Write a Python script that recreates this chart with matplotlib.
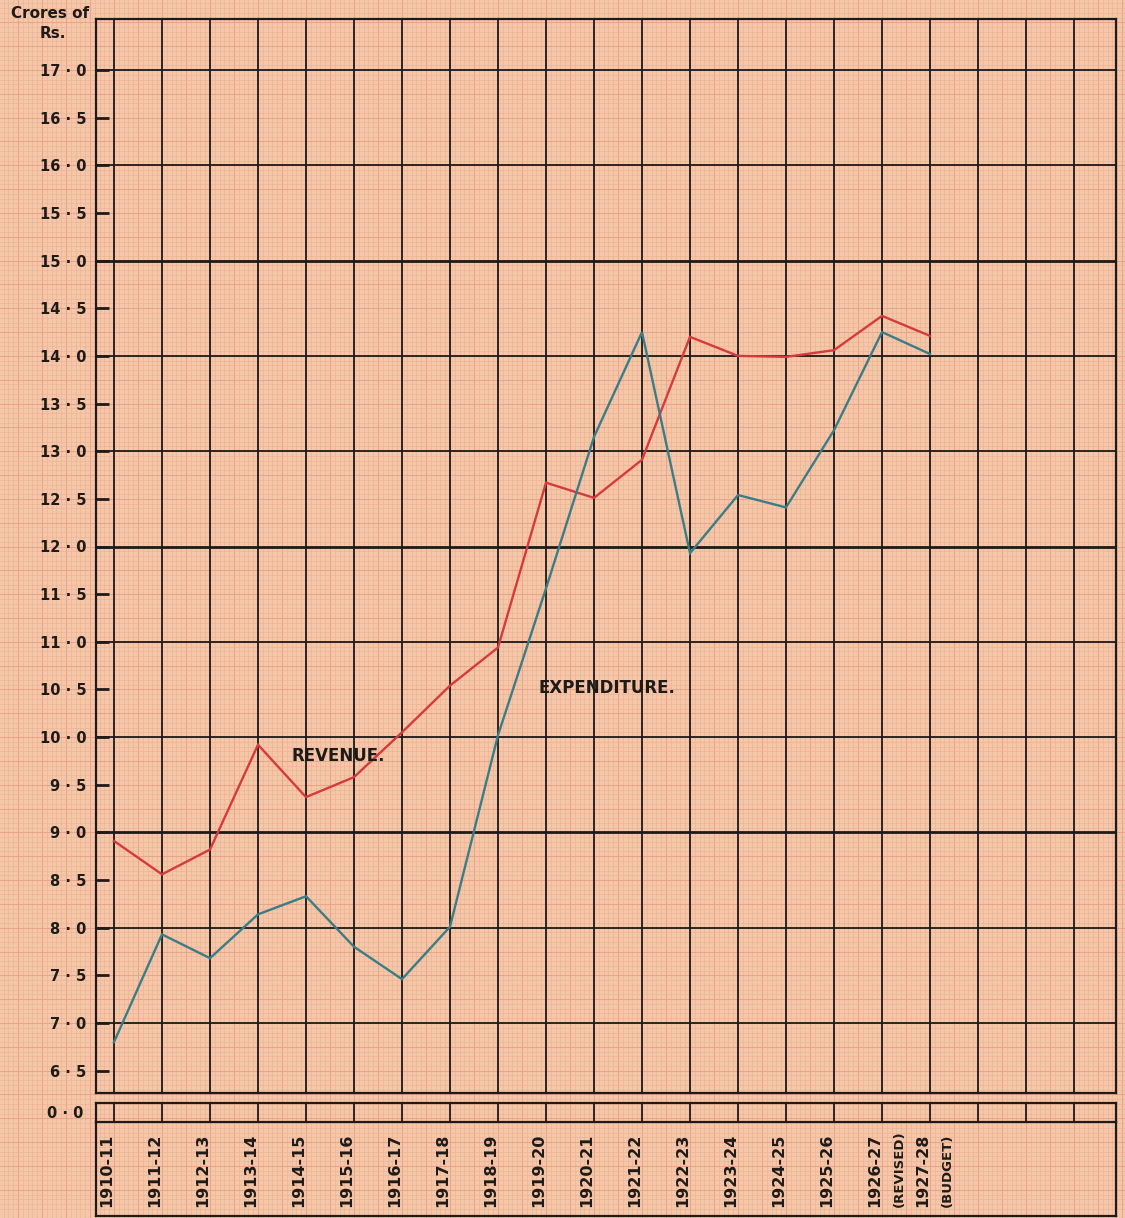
import matplotlib
matplotlib.use('Agg')
import matplotlib.pyplot as plt
import matplotlib.transforms as mtransforms
import numpy as np

# ---------------- data ----------------
years = ['1910-11', '1911-12', '1912-13', '1913-14', '1914-15', '1915-16',
         '1916-17', '1917-18', '1918-19', '1919-20', '1920-21', '1921-22',
         '1922-23', '1923-24', '1924-25', '1925-26', '1926-27', '1927-28']
notes = ['', '', '', '', '', '', '', '', '', '', '', '', '', '', '', '',
         '(REVISED)', '(BUDGET)']
revenue = [8.91, 8.56, 8.82, 9.92, 9.37, 9.58, 10.05, 10.54, 10.94, 12.67,
           12.51, 12.91, 14.20, 14.00, 13.99, 14.06, 14.42, 14.21]
expenditure = [6.80, 7.93, 7.68, 8.14, 8.33, 7.80, 7.46, 8.01, 10.02, 11.56,
               13.15, 14.25, 11.93, 12.54, 12.41, 13.22, 14.25, 14.02]
y_tick_values = [6.5, 7.0, 7.5, 8.0, 8.5, 9.0, 9.5, 10.0, 10.5, 11.0, 11.5,
                 12.0, 12.5, 13.0, 13.5, 14.0, 14.5, 15.0, 15.5, 16.0, 16.5, 17.0]
y_tick_labels = ['6 · 5', '7 · 0', '7 · 5', '8 · 0', '8 · 5', '9 · 0', '9 · 5',
                 '10 · 0', '10 · 5', '11 · 0', '11 · 5', '12 · 0', '12 · 5',
                 '13 · 0', '13 · 5', '14 · 0', '14 · 5', '15 · 0', '15 · 5',
                 '16 · 0', '16 · 5', '17 · 0']
grid_years = list(range(21))          # vertical ruled lines (incl. empty columns)
grid_values = [7, 8, 9, 10, 11, 12, 13, 14, 15, 16, 17]
heavy_values = [9, 12, 15]

# ---------------- style ----------------
PAPER = '#F5C7AA'
FINE = '#EFB394'
FINE5 = '#EAA487'
INK = '#1E1A18'
RED = '#D63A3C'
BLUE = '#3A7D86'
FONT = 'DejaVu Sans'

W, H = 1125, 1218
fig = plt.figure(figsize=(W / 100, H / 100), dpi=100)
fig.patch.set_facecolor(PAPER)


def fx(px):
    return px / W


def fy(px):
    return 1 - px / H


# ---------- graph-paper background ----------
bg = fig.add_axes([0, 0, 1, 1], zorder=-5)
bg.set_xlim(0, W)
bg.set_ylim(H, 0)
bg.axis('off')
step = 4.8
for k in range(-30, 240):
    x = 114 + step * k
    if 0 <= x <= W:
        bg.axvline(x, color=FINE5 if k % 5 == 0 else FINE,
                   lw=0.8 if k % 5 == 0 else 0.5, zorder=0)
step_y = 95.3 / 20
for k in range(-20, 240):
    y = 70 + step_y * k
    if 0 <= y <= H:
        bg.axhline(y, color=FINE5 if k % 5 == 0 else FINE,
                   lw=0.8 if k % 5 == 0 else 0.5, zorder=0)

# ---------- main axes ----------
L, R, T, B = 96, 1116, 19, 1093
x0, dx = 114, 48.0
y17, dy = 70, 95.3
xlim = ((L - x0) / dx, (R - x0) / dx)
ylim = (17 - (B - y17) / dy, 17 + (y17 - T) / dy)

ax = fig.add_axes([fx(L), fy(B), fx(R) - fx(L), fy(T) - fy(B)])
ax.set_facecolor('none')
ax.set_xlim(*xlim)
ax.set_ylim(*ylim)
for s in ax.spines.values():
    s.set_color(INK)
    s.set_linewidth(1.6)

for g in grid_years:
    ax.axvline(g, color=INK, lw=1.3, zorder=1)
for v in grid_values:
    ax.axhline(v, color=INK, lw=2.0 if v in heavy_values else 1.3, zorder=1)

ax.set_xticks([])
ax.set_yticks(y_tick_values)
ax.set_yticklabels(y_tick_labels, fontsize=10.5, fontweight='bold',
                   family=FONT, color=INK)
ax.tick_params(axis='y', direction='in', length=9, width=2.0, color=INK, pad=7)

xs = list(range(len(years)))
ax.plot(xs, revenue, color=RED, lw=1.7, zorder=3, solid_joinstyle='miter')
ax.plot(xs, expenditure, color=BLUE, lw=1.7, zorder=3, solid_joinstyle='miter')

ax.text(4.67, 9.80, 'REVENUE.', fontsize=12, fontweight='bold', family=FONT,
        color=INK, ha='center', va='center', zorder=4)
ax.text(10.27, 10.52, 'EXPENDITURE.', fontsize=12, fontweight='bold',
        family=FONT, color=INK, ha='center', va='center', zorder=4)

# ---------- 0·0 strip ----------
ST, SB = 1103, 1122
ax2 = fig.add_axes([fx(L), fy(SB), fx(R) - fx(L), fy(ST) - fy(SB)])
ax2.set_facecolor('none')
ax2.set_xlim(*xlim)
ax2.set_ylim(0, 1)
for s in ax2.spines.values():
    s.set_color(INK)
    s.set_linewidth(1.6)
for g in grid_years:
    ax2.axvline(g, color=INK, lw=1.3)
ax2.set_xticks([])
ax2.set_yticks([0.5])
ax2.set_yticklabels(['0 · 0'], fontsize=10.5, fontweight='bold', family=FONT,
                    color=INK)
ax2.tick_params(axis='y', length=0, pad=9)

# ---------- label box ----------
LB = 1216
ax3 = fig.add_axes([fx(L), fy(LB), fx(R) - fx(L), fy(SB) - fy(LB)])
ax3.set_facecolor('none')
ax3.set_xlim(*xlim)
ax3.set_ylim(0, 1)
ax3.set_xticks([])
ax3.set_yticks([])
for side, s in ax3.spines.items():
    s.set_color(INK)
    s.set_linewidth(1.6)
ax3.spines['top'].set_visible(False)
trans = mtransforms.blended_transform_factory(ax3.transData, ax3.transAxes)
y_start = (LB - 1207) / (LB - SB)
for i, (yr, nt) in enumerate(zip(years, notes)):
    ax3.text(i - 0.15, y_start, yr, transform=trans, rotation=90,
             rotation_mode='anchor', ha='left', va='center', fontsize=11.5,
             fontweight='bold', family=FONT, color=INK)
    if nt:
        ax3.text(i + 0.36, y_start, nt, transform=trans, rotation=90,
                 rotation_mode='anchor', ha='left', va='center', fontsize=9.5,
                 fontweight='bold', family=FONT, color=INK)

# ---------- unit caption ----------
fig.text(fx(50), fy(14), 'Crores of', fontsize=11, fontweight='bold',
         family=FONT, color=INK, ha='center', va='center')
fig.text(fx(53), fy(33), 'Rs.', fontsize=11, fontweight='bold',
         family=FONT, color=INK, ha='center', va='center')

fig.savefig('out.png', dpi=100, facecolor=PAPER)
